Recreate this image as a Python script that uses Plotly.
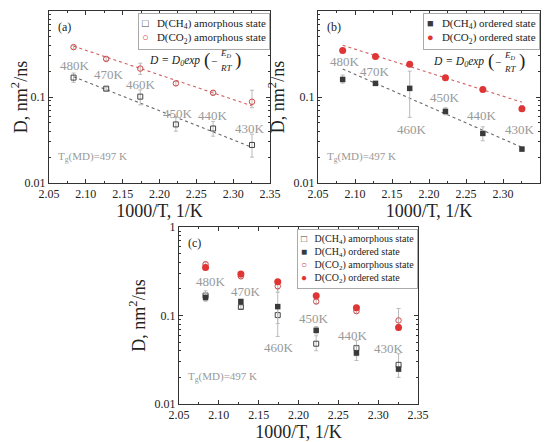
import numpy as np
import plotly.graph_objects as go

# temperatures and inverse temperature axis
temps = [480, 470, 460, 450, 440, 430]
inv_t = [1000 / t for t in temps]
temp_labels = ["480K", "470K", "460K", "450K", "440K", "430K"]

# diffusion coefficients (nm^2/ns), with error bar bounds
ch4_amorph = [0.168, 0.125, 0.101, 0.048, 0.043, 0.0277]
ch4_amorph_hi = [0.19, 0.13, 0.121, 0.059, 0.052, 0.037]
ch4_amorph_lo = [0.148, 0.12, 0.081, 0.040, 0.035, 0.020]

co2_amorph = [0.38, 0.277, 0.214, 0.144, 0.112, 0.088]
co2_amorph_hi = [0.40, 0.29, 0.247, 0.152, 0.118, 0.12]
co2_amorph_lo = [0.36, 0.265, 0.183, 0.136, 0.106, 0.075]

ch4_order = [0.16, 0.144, 0.126, 0.068, 0.0377, 0.0248]
ch4_order_hi = [0.18, 0.15, 0.20, 0.075, 0.045, 0.026]
ch4_order_lo = [0.145, 0.138, 0.058, 0.062, 0.031, 0.0235]

co2_order = [0.348, 0.295, 0.24, 0.167, 0.122, 0.073]
co2_order_hi = [0.37, 0.31, 0.25, 0.175, 0.13, 0.079]
co2_order_lo = [0.33, 0.28, 0.23, 0.16, 0.115, 0.068]

# Arrhenius fit lines (end points)
fit_x = [inv_t[0], inv_t[-1]]
fit_ch4_amorph = [0.172, 0.026]
fit_co2_amorph = [0.39, 0.079]
fit_ch4_order = [0.212, 0.026]
fit_co2_order = [0.40, 0.087]

# label positions (1000/T, D) for each panel
lab_a_x = [2.085, 2.132, 2.1755, 2.225, 2.273, 2.323]
lab_a_y = [0.231, 0.182, 0.14, 0.064, 0.061, 0.043]
lab_b_x = [2.086, 2.127, 2.177, 2.222, 2.271, 2.323]
lab_b_y = [0.259, 0.20, 0.042, 0.0975, 0.061, 0.042]
lab_c_x = [2.0906, 2.1345, 2.176, 2.22, 2.268, 2.314]
lab_c_y = [0.243, 0.187, 0.043, 0.093, 0.06, 0.0427]

FONT = "Liberation Serif"
GRAY = "#444444"
RED = "#e03535"
LINE_GRAY = "#6a6a6a"
LINE_RED = "#d06060"
ERR = "#bbbbbb"

# the page body has an 8px margin, so lay out on a slightly smaller canvas
OFF = 8
W, H = 550 - OFF, 442 - OFF


def xdom(a, b):
    return [(a - OFF) / W, (b - OFF) / W]


def ydom(top, bottom):
    return [1 - (bottom - OFF) / H, 1 - (top - OFF) / H]


def err(vals, hi, lo):
    return dict(type="data", symmetric=False,
                array=[h - v for h, v in zip(hi, vals)],
                arrayminus=[v - l for l, v in zip(lo, vals)],
                color=ERR, thickness=1, width=2)


fig = go.Figure()

sq_open = dict(symbol="square-open", size=5, color=GRAY, line=dict(width=1))
sq_fill = dict(symbol="square", size=5.5, color="#3a3a3a")
ci_open = dict(symbol="circle-open", size=5.5, color="#d04848", line=dict(width=1))
ci_fill = dict(symbol="circle", size=7, color=RED)

n_ch4_am = "D(CH<sub>4</sub>) amorphous state"
n_co2_am = "D(CO<sub>2</sub>) amorphous state"
n_ch4_or = "D(CH<sub>4</sub>) ordered state"
n_co2_or = "D(CO<sub>2</sub>) ordered state"

# panel (a)
fig.add_trace(go.Scatter(x=fit_x, y=fit_ch4_amorph, mode="lines",
                         line=dict(color=LINE_GRAY, dash="dot", width=1.1), xaxis="x", yaxis="y"))
fig.add_trace(go.Scatter(x=fit_x, y=fit_co2_amorph, mode="lines",
                         line=dict(color=LINE_RED, dash="dot", width=1.1), xaxis="x", yaxis="y"))
fig.add_trace(go.Scatter(x=inv_t, y=ch4_amorph, mode="markers", marker=sq_open, name=n_ch4_am,
                         error_y=err(ch4_amorph, ch4_amorph_hi, ch4_amorph_lo),
                         xaxis="x", yaxis="y"))
fig.add_trace(go.Scatter(x=inv_t, y=co2_amorph, mode="markers", marker=ci_open, name=n_co2_am,
                         error_y=err(co2_amorph, co2_amorph_hi, co2_amorph_lo),
                         xaxis="x", yaxis="y"))

# panel (b)
fig.add_trace(go.Scatter(x=fit_x, y=fit_ch4_order, mode="lines",
                         line=dict(color=LINE_GRAY, dash="dot", width=1.1), xaxis="x2", yaxis="y2"))
fig.add_trace(go.Scatter(x=fit_x, y=fit_co2_order, mode="lines",
                         line=dict(color=LINE_RED, dash="dot", width=1.1), xaxis="x2", yaxis="y2"))
fig.add_trace(go.Scatter(x=inv_t, y=ch4_order, mode="markers", marker=sq_fill, name=n_ch4_or,
                         error_y=err(ch4_order, ch4_order_hi, ch4_order_lo),
                         xaxis="x2", yaxis="y2"))
fig.add_trace(go.Scatter(x=inv_t, y=co2_order, mode="markers", marker=ci_fill, name=n_co2_or,
                         error_y=err(co2_order, co2_order_hi, co2_order_lo),
                         xaxis="x2", yaxis="y2"))

# panel (c)
for vals, hi, lo, mk, nm in [
    (ch4_amorph, ch4_amorph_hi, ch4_amorph_lo, sq_open, n_ch4_am),
    (ch4_order, ch4_order_hi, ch4_order_lo, sq_fill, n_ch4_or),
    (co2_amorph, co2_amorph_hi, co2_amorph_lo, ci_open, n_co2_am),
    (co2_order, co2_order_hi, co2_order_lo, ci_fill, n_co2_or),
]:
    fig.add_trace(go.Scatter(x=inv_t, y=vals, mode="markers", marker=mk, name=nm,
                             error_y=err(vals, hi, lo), xaxis="x3", yaxis="y3"))

xax = dict(range=[2.05, 2.35], dtick=0.05, tickformat=".2f", showline=True,
           linecolor="#333", linewidth=1, mirror="ticks", ticks="inside", ticklen=4,
           tickcolor="#333", showgrid=False, zeroline=False,
           minor=dict(ticks="inside", ticklen=2, dtick=0.025, tickcolor="#333", showgrid=False),
           tickfont=dict(family=FONT, size=12, color="#222"),
           title=dict(text="1000/T, 1/K", font=dict(family=FONT, size=18, color="#222"),
                      standoff=0))
yax = dict(type="log", range=[-2, 0], dtick=1, showline=True, linecolor="#333",
           linewidth=1, mirror="ticks", ticks="inside", ticklen=4, tickcolor="#333",
           showgrid=False, zeroline=False,
           minor=dict(ticks="inside", ticklen=2, tickcolor="#333", showgrid=False),
           tickfont=dict(family=FONT, size=12, color="#222"),
           title=dict(text="D, nm<sup>2</sup>/ns", font=dict(family=FONT, size=18, color="#222"),
                      standoff=4))

dom_a_x, dom_b_x, dom_c_x = xdom(49, 270), xdom(318, 540), xdom(179, 418)
dom_ab_y, dom_c_y = ydom(11, 183), ydom(227, 404)

fig.update_layout(
    width=W, height=H, margin=dict(l=0, r=0, t=0, b=0, autoexpand=False),
    paper_bgcolor="white", plot_bgcolor="white", showlegend=False,
    xaxis=dict(xax, domain=dom_a_x, anchor="y"),
    yaxis=dict(yax, domain=dom_ab_y, anchor="x"),
    xaxis2=dict(xax, domain=dom_b_x, anchor="y2"),
    yaxis2=dict(yax, domain=dom_ab_y, anchor="x2"),
    xaxis3=dict(xax, domain=dom_c_x, anchor="y3"),
    yaxis3=dict(yax, domain=dom_c_y, anchor="x3"),
)

anns = []
for xr, yr, lx, ly in [("x", "y", lab_a_x, lab_a_y), ("x2", "y2", lab_b_x, lab_b_y),
                       ("x3", "y3", lab_c_x, lab_c_y)]:
    for xv, yv, t in zip(lx, ly, temp_labels):
        anns.append(dict(x=xv, y=np.log10(yv), xref=xr, yref=yr, text=t, showarrow=False,
                         font=dict(family=FONT, size=13, color="#999")))
    anns.append(dict(x=0.03, y=0.1, xref=xr + " domain", yref=yr + " domain",
                     text="T<sub>g</sub>(MD)=497 K", showarrow=False, xanchor="left",
                     font=dict(family=FONT, size=11, color="#999")))

for xr, yr, lab in [("x", "y", "(a)"), ("x2", "y2", "(b)"), ("x3", "y3", "(c)")]:
    anns.append(dict(x=0.03, y=0.96, xref=xr + " domain", yref=yr + " domain", text=lab,
                     showarrow=False, xanchor="left", yanchor="top",
                     font=dict(family=FONT, size=12, color="#222")))


# legend boxes (compact line spacing like the original)
def sym(ch, col):
    return f"<span style='color:{col}'>{ch}</span>   "


leg_a = "<br>".join([sym("\u25a1", GRAY) + n_ch4_am, sym("\u25cb", "#d04848") + n_co2_am])
leg_b = "<br>".join([sym("\u25a0", "#3a3a3a") + n_ch4_or, sym("\u25cf", RED) + n_co2_or])
leg_c = "<br>".join([sym("\u25a1", GRAY) + n_ch4_am, sym("\u25a0", "#3a3a3a") + n_ch4_or,
                     sym("\u25cb", "#d04848") + n_co2_am, sym("\u25cf", RED) + n_co2_or])
for xr, yr, txt, fs in [("x", "y", leg_a, 11), ("x2", "y2", leg_b, 11), ("x3", "y3", leg_c, 10)]:
    anns.append(dict(x=1, y=0.99, xref=xr + " domain", yref=yr + " domain", text=txt,
                     showarrow=False, xanchor="right", yanchor="top", align="left",
                     bgcolor="white", bordercolor="#aaa", borderwidth=1, borderpad=3,
                     font=dict(family=FONT, size=fs, color="#222")))

# Arrhenius formula in panels (a) and (b)
shapes = []
for xr, yr, fx, fy in [("x", "y", 2.252, 0.265), ("x2", "y2", 2.272, 0.255)]:
    ly = np.log10(fy)
    f = dict(family=FONT, color="#222")
    anns.append(dict(x=fx, y=ly, xref=xr, yref=yr, xshift=4, xanchor="right", showarrow=False,
                     text="<i>D = D<sub>0</sub>exp</i>", font=dict(f, size=11.5)))
    anns.append(dict(x=fx, y=ly, xref=xr, yref=yr, xshift=4, yshift=1, xanchor="left",
                     showarrow=False, text="(", font=dict(f, size=19)))
    anns.append(dict(x=fx, y=ly, xref=xr, yref=yr, xshift=11, xanchor="left",
                     showarrow=False, text="\u2212", font=dict(f, size=11)))
    anns.append(dict(x=fx, y=ly, xref=xr, yref=yr, xshift=28, yshift=7, showarrow=False,
                     text="<i>E<sub>D</sub></i>", font=dict(f, size=9)))
    anns.append(dict(x=fx, y=ly, xref=xr, yref=yr, xshift=28, yshift=-7, showarrow=False,
                     text="<i>RT</i>", font=dict(f, size=9)))
    anns.append(dict(x=fx, y=ly, xref=xr, yref=yr, xshift=35, yshift=1, xanchor="left",
                     showarrow=False, text=")", font=dict(f, size=19)))
    shapes.append(dict(type="line", xref=xr, yref=yr, xsizemode="pixel", ysizemode="pixel",
                       xanchor=fx, yanchor=ly, x0=22, x1=34, y0=0, y1=0,
                       line=dict(color="#222", width=0.8)))

fig.update_layout(annotations=anns, shapes=shapes)

fig.write_html("out.html")
